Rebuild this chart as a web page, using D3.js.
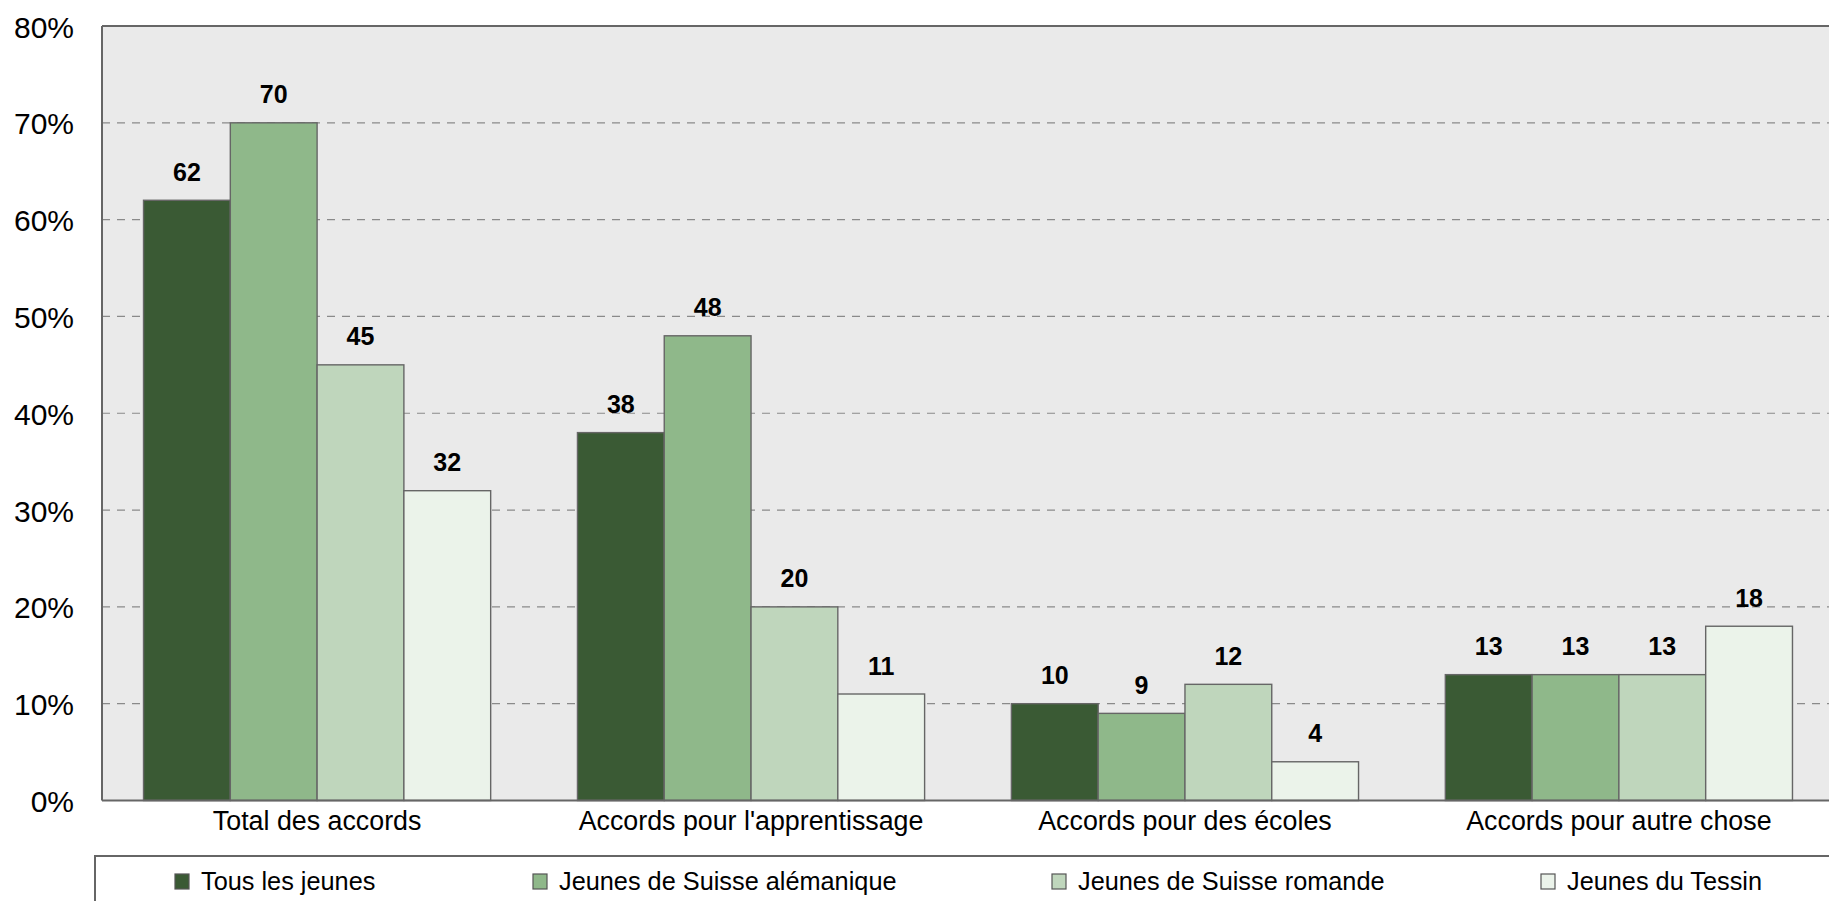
<!DOCTYPE html>
<html>
<head>
<meta charset="utf-8">
<script src="https://cdn.jsdelivr.net/npm/d3@7"></script>
<style>
  html, body { margin: 0; padding: 0; background: #ffffff; }
  svg { display: block; font-family: "Liberation Sans", Arial, sans-serif; }
</style>
</head>
<body>
<svg id="chart" width="1829" height="901"></svg>
<script>
// Categories along the x axis
const categories = [
  "Total des accords",
  "Accords pour l'apprentissage",
  "Accords pour des écoles",
  "Accords pour autre chose"
];

// Series (one per youth group), values in percent
const seriesNames = [
  "Tous les jeunes",
  "Jeunes de Suisse alémanique",
  "Jeunes de Suisse romande",
  "Jeunes du Tessin"
];
const tousLesJeunes    = [62, 38, 10, 13];
const suisseAlemanique = [70, 48, 9, 13];
const suisseRomande    = [45, 20, 12, 13];
const tessin           = [32, 11, 4, 18];
const seriesValues = [tousLesJeunes, suisseAlemanique, suisseRomande, tessin];

// Y axis ticks
const yTicks = [0, 10, 20, 30, 40, 50, 60, 70, 80];

const colors = ["#3a5a34", "#8fb88a", "#bfd6bc", "#ebf3ea"];

const svg = d3.select("#chart");

const plot = { left: 102, top: 26, bottom: 800.5, right: 1834 };

const x0 = d3.scaleBand()
  .domain(categories)
  .range([plot.left, plot.right])
  .paddingInner(0.2)
  .paddingOuter(0.0957);

const x1 = d3.scaleBand()
  .domain(d3.range(seriesNames.length))
  .range([0, x0.bandwidth()]);

const y = d3.scaleLinear().domain([0, 80]).range([plot.bottom, plot.top]);

// Plot background
svg.append("rect")
  .attr("x", plot.left).attr("y", plot.top)
  .attr("width", plot.right - plot.left + 20)
  .attr("height", plot.bottom - plot.top)
  .attr("fill", "#eaeaea");

// Dashed gridlines
svg.append("g")
  .selectAll("line")
  .data(yTicks.filter(t => t > 0 && t < 80))
  .join("line")
  .attr("x1", plot.left).attr("x2", 1829)
  .attr("y1", d => y(d)).attr("y2", d => y(d))
  .attr("stroke", "#8a8a8a")
  .attr("stroke-width", 1.2)
  .attr("stroke-dasharray", "8,7");

// Frame: top and left edges
svg.append("line")
  .attr("x1", plot.left).attr("x2", 1829)
  .attr("y1", y(80)).attr("y2", y(80))
  .attr("stroke", "#666").attr("stroke-width", 2);
svg.append("line")
  .attr("x1", plot.left).attr("x2", plot.left)
  .attr("y1", y(80)).attr("y2", y(0))
  .attr("stroke", "#666").attr("stroke-width", 2);

// Y axis labels
const yAxis = d3.axisLeft(y)
  .tickValues(yTicks)
  .tickFormat(d => d + "%")
  .tickSize(0)
  .tickPadding(28);
const yg = svg.append("g")
  .attr("transform", `translate(${plot.left},0)`)
  .call(yAxis);
yg.select(".domain").remove();
yg.selectAll("text")
  .attr("font-size", 30)
  .attr("font-family", "Liberation Sans, Arial, sans-serif")
  .attr("fill", "#000")
  .attr("dy", "0.37em");

// Bars
const groups = svg.append("g")
  .selectAll("g")
  .data(categories)
  .join("g")
  .attr("transform", d => `translate(${x0(d)},0)`);

groups.selectAll("rect")
  .data((d, ci) => seriesValues.map((vals, si) => ({ si, v: vals[ci] })))
  .join("rect")
  .attr("x", d => x1(d.si))
  .attr("y", d => y(d.v))
  .attr("width", x1.bandwidth())
  .attr("height", d => y(0) - y(d.v))
  .attr("fill", d => colors[d.si])
  .attr("stroke", "#666")
  .attr("stroke-width", 1.4);

// Value labels
groups.selectAll("text")
  .data((d, ci) => seriesValues.map((vals, si) => ({ si, v: vals[ci] })))
  .join("text")
  .attr("x", d => x1(d.si) + x1.bandwidth() / 2)
  .attr("y", d => y(d.v) - 19.5)
  .attr("text-anchor", "middle")
  .attr("font-size", 25)
  .attr("font-weight", "bold")
  .attr("fill", "#000")
  .text(d => d.v);

// Baseline
svg.append("line")
  .attr("x1", plot.left).attr("x2", 1829)
  .attr("y1", y(0)).attr("y2", y(0))
  .attr("stroke", "#666").attr("stroke-width", 2);

// X axis category labels
const xAxis = d3.axisBottom(x0).tickSize(0).tickPadding(10);
const xg = svg.append("g")
  .attr("transform", `translate(0,${y(0)})`)
  .call(xAxis);
xg.select(".domain").remove();
xg.selectAll("text")
  .attr("font-size", 26.8)
  .attr("font-family", "Liberation Sans, Arial, sans-serif")
  .attr("fill", "#000")
  .attr("dy", null)
  .attr("y", 29.5);

// Legend
const legendTop = 856;
svg.append("rect")
  .attr("x", 95).attr("y", legendTop)
  .attr("width", 1800).attr("height", 100)
  .attr("fill", "#fff")
  .attr("stroke", "#666")
  .attr("stroke-width", 2);

const legendX = [175, 533, 1052, 1541];
const legend = svg.append("g")
  .selectAll("g")
  .data(seriesNames)
  .join("g")
  .attr("transform", (d, i) => `translate(${legendX[i]},${legendTop + 18})`);
legend.append("rect")
  .attr("width", 14).attr("height", 15)
  .attr("fill", (d, i) => colors[i])
  .attr("stroke", "#555")
  .attr("stroke-width", 1.2);
legend.append("text")
  .attr("x", 26)
  .attr("y", 16)
  .attr("font-size", 25.3)
  .attr("fill", "#000")
  .text(d => d);
</script>
</body>
</html>
